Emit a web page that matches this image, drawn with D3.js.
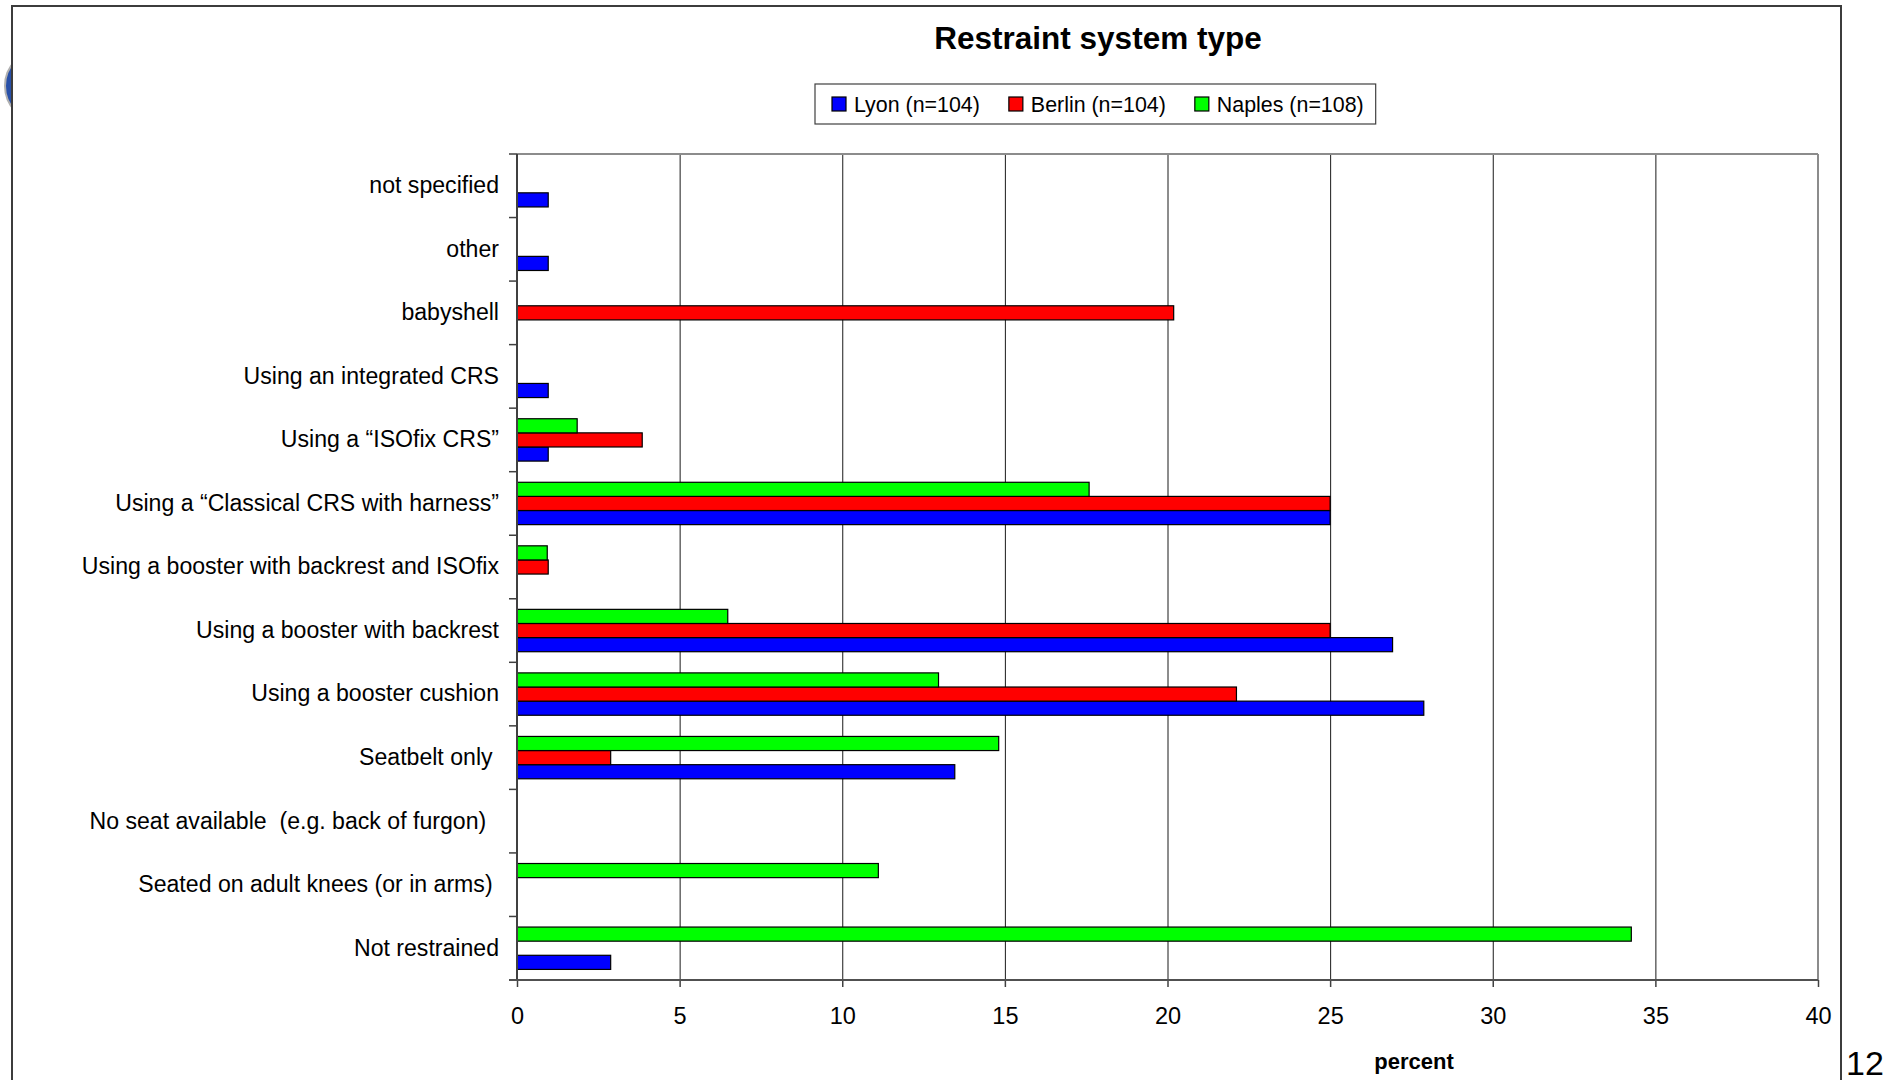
<!DOCTYPE html>
<html>
<head>
<meta charset="utf-8">
<script src="https://cdn.jsdelivr.net/npm/d3@7"></script>
<style>
  html, body { margin: 0; padding: 0; background: #ffffff; }
  svg { display: block; font-family: "Liberation Sans", Arial, Helvetica, sans-serif; }
  .ylab text { white-space: pre; }
</style>
</head>
<body>
<svg id="chart" width="1899" height="1080"></svg>
<script>
// ---------------- data ----------------
const categories = [
  "not specified",
  "other",
  "babyshell",
  "Using an integrated CRS",
  "Using a \u201CISOfix CRS\u201D",
  "Using a \u201CClassical CRS with harness\u201D",
  "Using a booster with backrest and ISOfix",
  "Using a booster with backrest",
  "Using a booster cushion",
  "Seatbelt only ",
  "No seat available  (e.g. back of furgon)  ",
  "Seated on adult knees (or in arms) ",
  "Not restrained"
];
const seriesNames = ["Lyon (n=104)", "Berlin (n=104)", "Naples (n=108)"];
const seriesColors = ["#0000ff", "#ff0000", "#00ff00"];
const lyon   = [0.96, 0.96, null, 0.96, 0.96, 25.00, null, 26.92, 27.88, 13.46, null, null, 2.88];
const berlin = [null, null, 20.19, null, 3.85, 25.00, 0.96, 25.00, 22.12, 2.88, null, null, null];
const naples = [null, null, null, null, 1.85, 17.59, 0.93, 6.48, 12.96, 14.81, null, 11.11, 34.26];
const xTicks = [0, 5, 10, 15, 20, 25, 30, 35, 40];
const titleText = "Restraint system type";
const xAxisTitle = "percent";
const pageNumber = "12";

const seriesValues = [lyon, berlin, naples];

// ---------------- layout ----------------
const svg = d3.select("#chart");
const plot = { left: 517, right: 1818, top: 154, bottom: 980 };

// slide decoration (partially hidden logo circle)
svg.append("circle").attr("cx", 41).attr("cy", 86).attr("r", 36)
  .attr("fill", "#2850a8").attr("stroke", "#b0b0b0").attr("stroke-width", 2);

// chart area
svg.append("rect").attr("x", 12).attr("y", 6).attr("width", 1829).attr("height", 1100)
  .attr("fill", "#ffffff").attr("stroke", "#3c3c3c").attr("stroke-width", 2);

// page number
svg.append("text").attr("x", 1846).attr("y", 1075).attr("font-size", 34)
  .attr("fill", "#000").text(pageNumber);

// scales
const x = d3.scaleLinear().domain([0, 40]).range([plot.left, plot.right]);
const y = d3.scaleBand().domain(categories).range([plot.top, plot.bottom]).padding(0);
const order = [2, 1, 0]; // Naples top, Berlin middle, Lyon bottom
const ySub = d3.scaleBand().domain(order).range([0, y.bandwidth()])
  .paddingInner(0).paddingOuter(0.75);

// gridlines
const grid = svg.append("g").attr("transform", `translate(0,${plot.bottom})`)
  .call(d3.axisBottom(x).tickValues(xTicks.filter(t => t > 0 && t < 40))
    .tickSize(-(plot.bottom - plot.top)).tickFormat(""));
grid.select(".domain").remove();
grid.selectAll("line").attr("stroke", "#1a1a1a").attr("stroke-width", 1);

// plot frame (top & right)
svg.append("line").attr("x1", plot.left).attr("x2", plot.right)
  .attr("y1", plot.top).attr("y2", plot.top).attr("stroke", "#8c8c8c").attr("stroke-width", 2);
svg.append("line").attr("x1", plot.right).attr("x2", plot.right)
  .attr("y1", plot.top).attr("y2", plot.bottom).attr("stroke", "#8c8c8c").attr("stroke-width", 2);

// bars
const barData = [];
categories.forEach((c, i) => {
  seriesValues.forEach((vals, s) => {
    const v = vals[i];
    if (v !== null && v !== undefined) barData.push({ cat: c, s: s, v: v });
  });
});
svg.append("g").selectAll("rect").data(barData).join("rect")
  .attr("x", x(0))
  .attr("y", d => y(d.cat) + ySub(d.s))
  .attr("width", d => x(d.v) - x(0))
  .attr("height", ySub.bandwidth())
  .attr("fill", d => seriesColors[d.s])
  .attr("stroke", "#000").attr("stroke-width", 1.2);

// left axis: category labels
const yAx = svg.append("g").attr("class", "ylab").attr("transform", `translate(${plot.left},0)`)
  .call(d3.axisLeft(y).tickSize(0).tickPadding(18));
yAx.select(".domain").remove();
yAx.selectAll("text").attr("font-size", 23.1).attr("fill", "#000")
  .attr("font-family", "\"Liberation Sans\", Arial, sans-serif");

// left axis boundary ticks
const bounds = categories.map(c => y(c)).concat([y(categories[categories.length - 1]) + y.bandwidth()]);
svg.append("g").selectAll("line").data(bounds).join("line")
  .attr("x1", plot.left - 8).attr("x2", plot.left)
  .attr("y1", d => d).attr("y2", d => d)
  .attr("stroke", "#404040").attr("stroke-width", 1.5);
svg.append("line").attr("x1", plot.left).attr("x2", plot.left)
  .attr("y1", plot.top).attr("y2", plot.bottom).attr("stroke", "#404040").attr("stroke-width", 2);

// bottom axis
const xAx = svg.append("g").attr("transform", `translate(0,${plot.bottom})`)
  .call(d3.axisBottom(x).tickValues(xTicks).tickSize(7).tickPadding(20).tickSizeOuter(0));
xAx.select(".domain").remove();
xAx.selectAll("line").attr("stroke", "#404040").attr("stroke-width", 1.5);
xAx.selectAll("text").attr("font-size", 23.5).attr("fill", "#000")
  .attr("font-family", "\"Liberation Sans\", Arial, sans-serif");
svg.append("line").attr("x1", plot.left - 8).attr("x2", plot.right)
  .attr("y1", plot.bottom).attr("y2", plot.bottom).attr("stroke", "#505050").attr("stroke-width", 2);

// x axis title
svg.append("text").attr("x", 1414).attr("y", 1069).attr("text-anchor", "middle")
  .attr("font-size", 22).attr("font-weight", "bold").attr("fill", "#000").text(xAxisTitle);

// title
svg.append("text").attr("x", 1098).attr("y", 49).attr("text-anchor", "middle")
  .attr("font-size", 31.5).attr("font-weight", "bold").attr("fill", "#000").text(titleText);

// legend
const legend = svg.append("g");
const legBox = legend.append("rect").attr("x", 815).attr("y", 84).attr("width", 560).attr("height", 40)
  .attr("fill", "#fff").attr("stroke", "#404040").attr("stroke-width", 1.2);
let lx = 832;
seriesNames.forEach((name, i) => {
  legend.append("rect").attr("x", lx).attr("y", 97).attr("width", 14).attr("height", 14)
    .attr("fill", seriesColors[i]).attr("stroke", "#000").attr("stroke-width", 1.2);
  const t = legend.append("text").attr("x", lx + 22).attr("y", 112)
    .attr("font-size", 21.4).attr("fill", "#000").text(name);
  const w = t.node().getComputedTextLength();
  lx = lx + 22 + w + 29;
});
legBox.attr("width", lx - 29 + 12 - 815);
</script>
</body>
</html>
